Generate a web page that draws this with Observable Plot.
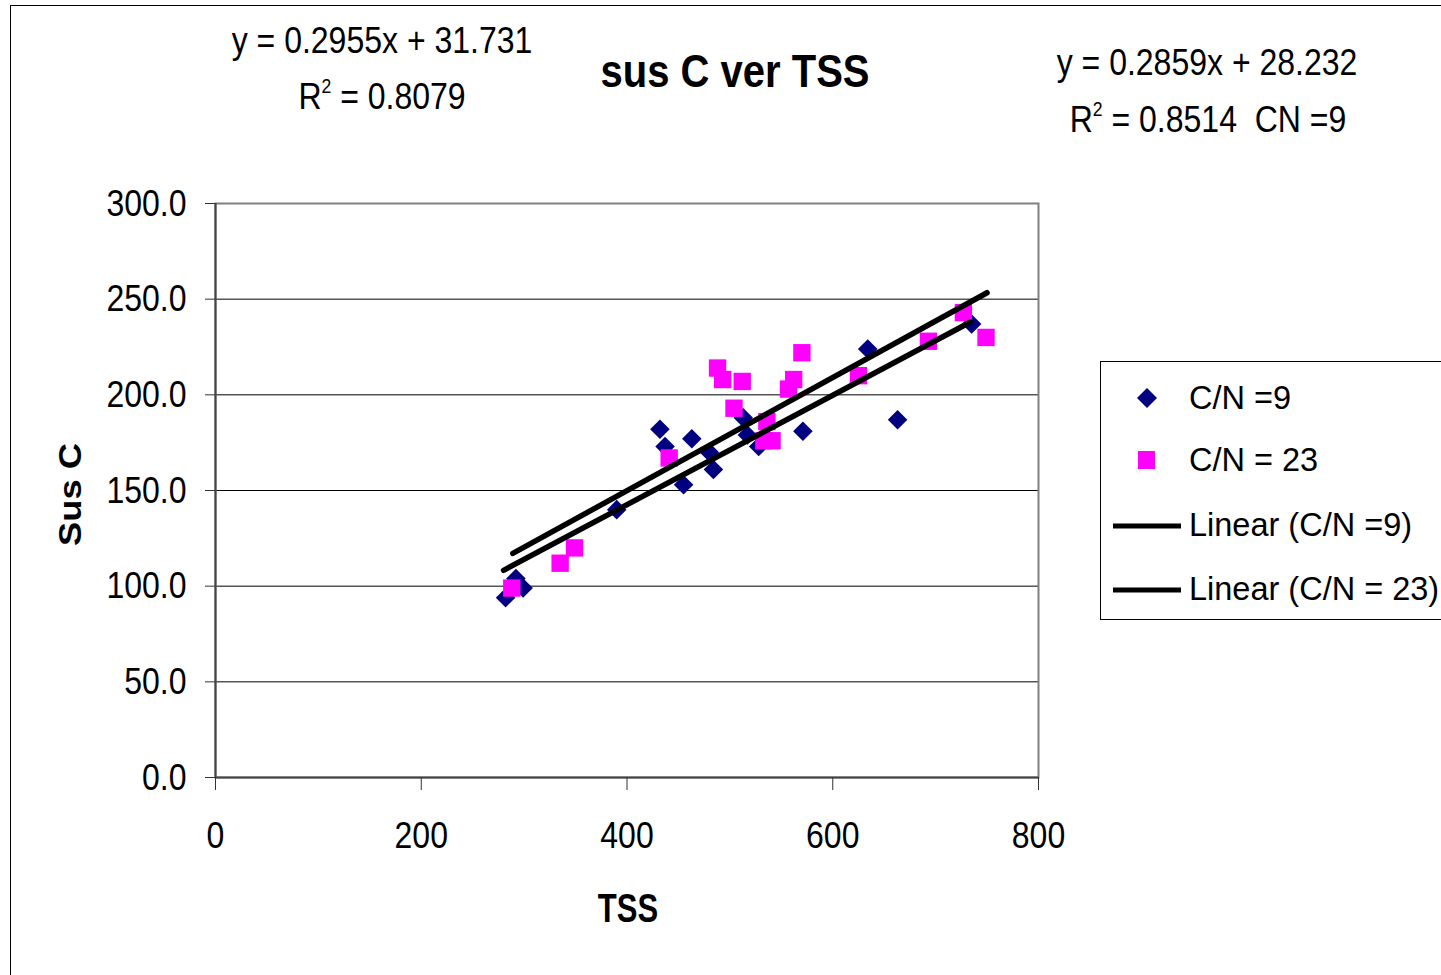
<!DOCTYPE html>
<html><head><meta charset="utf-8">
<script src="https://cdn.jsdelivr.net/npm/d3@7"></script>
<script src="https://cdn.jsdelivr.net/npm/@observablehq/plot@0.6"></script>
<style>
body{margin:0;background:#fff;}
#wrap{position:relative;width:1441px;height:975px;overflow:hidden;font-family:"Liberation Sans",Arial,sans-serif;color:#000;background:#fff;}
#wrap svg.chart{position:absolute;left:0;top:0;}
.t{position:absolute;text-align:center;white-space:nowrap;line-height:1;transform:scale(1,1.17);}
.border{position:absolute;left:10px;top:5px;width:2000px;height:2000px;border-left:1px solid #000;border-top:1px solid #000;}
.legend{position:absolute;left:1100px;top:361px;width:400px;height:257px;border:1px solid #000;background:#fff;}
.li{position:absolute;left:0;height:40px;width:400px;font-size:32.5px;line-height:40px;}
.li svg{position:absolute;left:0;top:0;}
.li span{position:absolute;left:88px;top:0;}
sup{font-size:0.55em;vertical-align:0.75em;line-height:0}
</style></head><body><div id="wrap"><div class="border"></div></div>
<script>
// Series C/N = 9 (navy diamonds)
const tssCN9 = [282, 292, 299, 390, 432, 437, 455, 463, 480, 484, 513, 517, 528, 571, 634, 663, 735];
const susCN9 = [94, 104, 99, 140, 182, 173, 153, 177, 170, 161, 188, 179, 173, 181, 224, 187, 237];
// Series C/N = 23 (magenta squares)
const tssCN23 = [288, 335, 349, 441, 488, 493, 504, 512, 533, 536, 541, 557, 562, 570, 625, 693, 727, 749];
const susCN23 = [99, 112, 120, 167, 214, 208, 193, 207, 176, 186, 176, 203, 208, 222, 210, 228, 243, 230];
// Trendlines (coefficients printed on the chart) and their x extents
const fitCN9 = {slope: 0.2859, intercept: 28.232, xFrom: 280, xTo: 734};
const fitCN23 = {slope: 0.2955, intercept: 31.731, xFrom: 289, xTo: 750};
const xTicks = [0, 200, 400, 600, 800];
const yTicks = [0, 50, 100, 150, 200, 250, 300];
const gridValues = [50, 100, 150, 200, 250];

const cn9 = tssCN9.map((x, i) => ({x, y: susCN9[i]}));
const cn23 = tssCN23.map((x, i) => ({x, y: susCN23[i]}));
const lineOf = (f, key) => [f.xFrom, f.xTo].map(x => ({x, y: f.slope * x + f.intercept, key}));
const trend = [...lineOf(fitCN9, "9"), ...lineOf(fitCN23, "23")];

const FONT = '"Liberation Sans", Arial, sans-serif';
const chart = Plot.plot({
  width: 1441, height: 975,
  marginLeft: 215, marginRight: 403, marginTop: 203, marginBottom: 198,
  x: {domain: [0, 800]},
  y: {domain: [0, 300]},
  style: {fontFamily: FONT, fontSize: "32px", color: "#000", background: "transparent", overflow: "visible"},
  marks: [
    Plot.ruleY(gridValues, {stroke: "#000", strokeWidth: 1}),
    Plot.frame({stroke: "#808080", strokeWidth: 2}),
    Plot.ruleY([0], {stroke: "#444", strokeWidth: 2}),
    Plot.ruleX([0], {stroke: "#444", strokeWidth: 2}),
    Plot.axisY({ticks: yTicks, tickSize: 10, tickPadding: 19, tickFormat: d => d.toFixed(1), label: null, fontSize: 32, stroke: "#333"}),
    Plot.axisX({ticks: xTicks, tickSize: 13, tickPadding: 33, tickFormat: d => String(d), label: null, fontSize: 32, stroke: "#333"}),
    Plot.dot(cn9, {x: "x", y: "y", symbol: "diamond2", r: 8.8, fill: "#000080", stroke: "none"}),
    Plot.dot(cn23, {x: "x", y: "y", symbol: "square", r: 9.8, fill: "#FF00FF", stroke: "none"}),
    Plot.line(trend, {x: "x", y: "y", z: "key", stroke: "#000", strokeWidth: 5.5})
  ]
});
chart.classList.add("chart");
const wrap = document.getElementById("wrap");
wrap.appendChild(chart);
// vertical stretch of tick labels (about their own centre) as in the reference typeface
chart.querySelectorAll('g[aria-label$="tick label"] text').forEach(t => {
  const r = t.getBoundingClientRect();
  const parent = t.parentNode;
  const m = parent.getScreenCTM().inverse();
  const p = chart.createSVGPoint();
  p.x = r.x + r.width / 2; p.y = r.y + r.height / 2;
  const q = p.matrixTransform(m);
  const g = document.createElementNS("http://www.w3.org/2000/svg", "g");
  g.setAttribute("transform", `translate(${q.x},${q.y}) scale(1,1.17) translate(${-q.x},${-q.y})`);
  parent.insertBefore(g, t);
  g.appendChild(t);
});

function addText(html, cx, cy, size, bold, extra) {
  const d = document.createElement("div");
  d.className = "t";
  d.innerHTML = html;
  d.style.fontSize = size + "px";
  d.style.height = size + "px";
  d.style.width = "600px";
  d.style.left = (cx - 300) + "px";
  d.style.top = (cy - size / 2) + "px";
  if (bold) d.style.fontWeight = "bold";
  if (extra) d.style.transform = extra;
  wrap.appendChild(d);
}
addText("y = 0.2955x + 31.731", 382, 40, 32);
addText("R<sup>2</sup> = 0.8079", 382, 96, 32);
addText("sus C ver TSS", 735, 71, 40, true);
addText("y = 0.2859x + 28.232", 1207, 62, 32);
addText("R<sup>2</sup> = 0.8514&nbsp; CN =9", 1208, 119, 32);
addText("TSS", 628, 908, 31, true, "scale(1,1.3)");
addText("Sus C", 70, 494, 31, true, "scale(1,1.17) rotate(-90deg)");

// legend
const legend = document.createElement("div");
legend.className = "legend";
const items = [
  {label: "C/N =9", kind: "diamond", cy: 36},
  {label: "C/N = 23", kind: "square", cy: 98},
  {label: "Linear (C/N =9)", kind: "line", cy: 163},
  {label: "Linear (C/N = 23)", kind: "line", cy: 227}
];
items.forEach(it => {
  const row = document.createElement("div");
  row.className = "li";
  row.style.top = (it.cy - 20) + "px";
  let sw = "";
  if (it.kind === "diamond") sw = '<polygon points="46,10 56,20 46,30 36,20" fill="#000080"/>';
  else if (it.kind === "square") sw = '<rect x="37" y="11" width="17" height="18" fill="#FF00FF"/>';
  else sw = '<line x1="12" x2="80" y1="21" y2="21" stroke="#000" stroke-width="5"/>';
  row.innerHTML = `<svg width="90" height="40">${sw}</svg><span>${it.label}</span>`;
  legend.appendChild(row);
});
wrap.appendChild(legend);
</script></body></html>
